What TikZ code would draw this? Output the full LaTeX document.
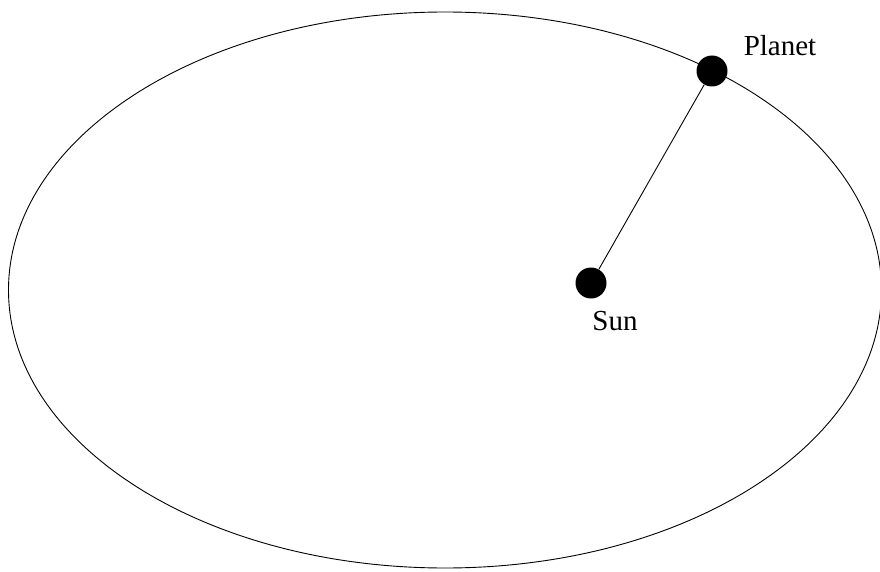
\documentclass[tikz,border=0pt]{standalone}
\usepackage{fontspec}
\setmainfont{Liberation Serif}
\begin{document}
\begin{tikzpicture}[x=1pt,y=-1pt,
  body/.style={circle,fill=black,draw=none,minimum size=31pt,inner sep=0pt},
  lbl/.style={anchor=base,inner sep=0pt,font=\fontsize{29}{32}\selectfont},
  orbit/.style={draw=black,line width=0.9pt}]
\useasboundingbox (0,0) rectangle (880,572);
\draw[orbit] (445,290) ellipse [x radius=436.5, y radius=278];
\node[body] (planet) at (712,71) {};
\node[body] (sun) at (591,283) {};
\draw[line width=0.9pt] (sun) -- (planet);
\node[lbl] (planetlbl) at (780,56) {Planet};
\node[lbl] (sunlbl) at (615,330) {Sun};
\end{tikzpicture}
\end{document}
